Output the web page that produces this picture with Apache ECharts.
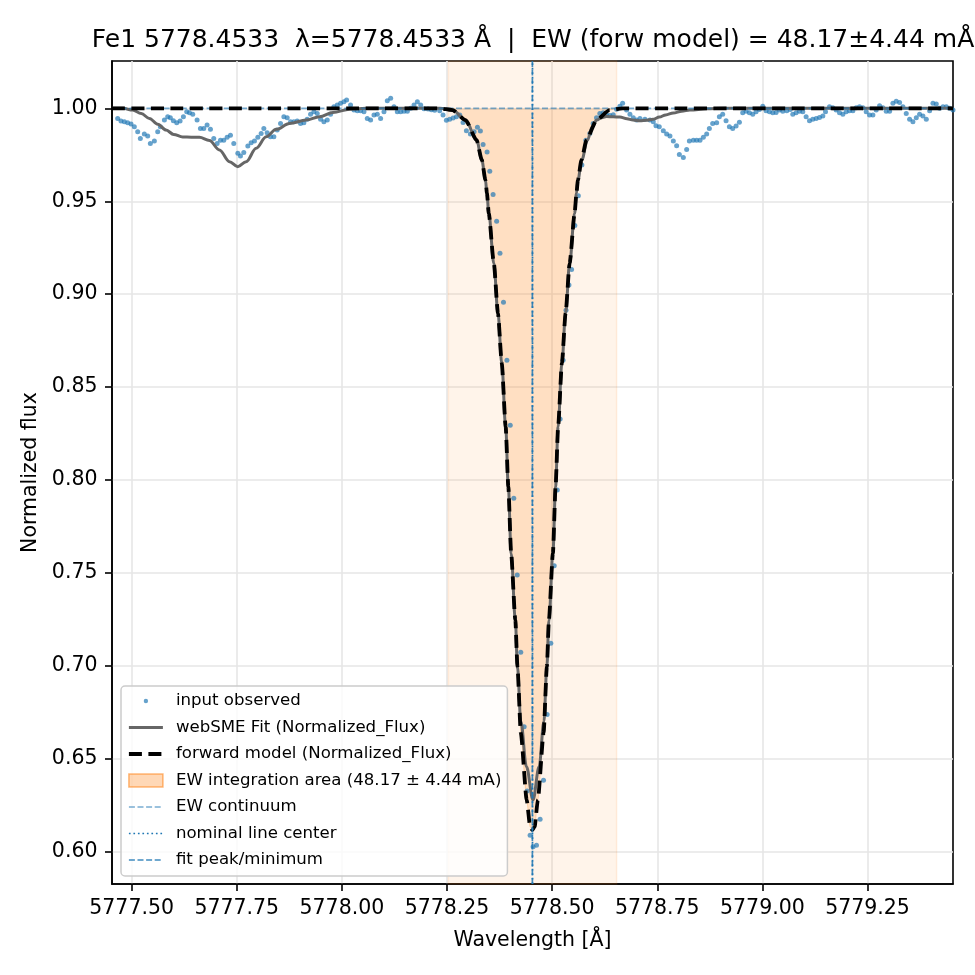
<!DOCTYPE html>
<html>
<head>
<meta charset="utf-8">
<title>Fe1 5778.4533</title>
<script src="https://cdn.jsdelivr.net/npm/echarts@6/dist/echarts.min.js"></script>
<style>
  html, body { margin: 0; padding: 0; background: #fff; }
  #main { width: 975px; height: 975px; }
</style>
</head>
<body>
<div id="main"></div>
<script>
// observed spectrum
const obsWave = [
  5777.4668, 5777.4747, 5777.4826, 5777.4906, 5777.4985, 5777.5064, 5777.5144, 5777.5207, 5777.5302, 5777.5382,
  5777.5445, 5777.5540, 5777.5620, 5777.5683, 5777.5779, 5777.5858, 5777.5921, 5777.5993, 5777.6072, 5777.6152,
  5777.6231, 5777.6310, 5777.6374, 5777.6453, 5777.6556, 5777.6636, 5777.6715, 5777.6794, 5777.6874, 5777.6953,
  5777.7033, 5777.7112, 5777.7191, 5777.7271, 5777.7350, 5777.7429, 5777.7525, 5777.7588, 5777.7667, 5777.7763,
  5777.7842, 5777.7921, 5777.8001, 5777.8080, 5777.8144, 5777.8223, 5777.8302, 5777.8382, 5777.8461, 5777.8541,
  5777.8620, 5777.8699, 5777.8779, 5777.8858, 5777.8937, 5777.9017, 5777.9096, 5777.9175, 5777.9255, 5777.9334,
  5777.9414, 5777.9493, 5777.9572, 5777.9652, 5777.9731, 5777.9810, 5777.9890, 5777.9969, 5778.0048, 5778.0112,
  5778.0207, 5778.0287, 5778.0366, 5778.0445, 5778.0525, 5778.0604, 5778.0683, 5778.0763, 5778.0842, 5778.0921,
  5778.1001, 5778.1080, 5778.1160, 5778.1239, 5778.1318, 5778.1398, 5778.1477, 5778.1556, 5778.1636, 5778.1715,
  5778.1795, 5778.1874, 5778.1953, 5778.2049, 5778.2128, 5778.2207, 5778.2326, 5778.2406, 5778.2485, 5778.2564,
  5778.2644, 5778.2723, 5778.2803, 5778.2882, 5778.2961, 5778.3056, 5778.3144, 5778.3223, 5778.3294, 5778.3358,
  5778.3453, 5778.3517, 5778.3596, 5778.3680, 5778.3760, 5778.3843, 5778.3925, 5778.4004, 5778.4088, 5778.4170,
  5778.4254, 5778.4335, 5778.4405, 5778.4476, 5778.4547, 5778.4628, 5778.4714, 5778.4795, 5778.4881, 5778.4969,
  5778.5050, 5778.5123, 5778.5190, 5778.5260, 5778.5330, 5778.5400, 5778.5462, 5778.5540, 5778.5623, 5778.5707,
  5778.5802, 5778.5897, 5778.5976, 5778.6055, 5778.6134, 5778.6213, 5778.6295, 5778.6374, 5778.6453, 5778.6532,
  5778.6611, 5778.6676, 5778.6771, 5778.6850, 5778.6929, 5778.7008, 5778.7088, 5778.7207, 5778.7326, 5778.7405,
  5778.7469, 5778.7548, 5778.7644, 5778.7723, 5778.7802, 5778.7882, 5778.7961, 5778.8025, 5778.8120, 5778.8199,
  5778.8263, 5778.8358, 5778.8437, 5778.8517, 5778.8596, 5778.8675, 5778.8739, 5778.8818, 5778.8913, 5778.8977,
  5778.9056, 5778.9136, 5778.9215, 5778.9294, 5778.9374, 5778.9453, 5778.9532, 5778.9612, 5778.9691, 5778.9771,
  5778.9850, 5778.9929, 5779.0009, 5779.0088, 5779.0167, 5779.0247, 5779.0326, 5779.0406, 5779.0485, 5779.0580,
  5779.0660, 5779.0723, 5779.0802, 5779.0882, 5779.0961, 5779.1040, 5779.1120, 5779.1199, 5779.1279, 5779.1358,
  5779.1437, 5779.1501, 5779.1596, 5779.1675, 5779.1755, 5779.1834, 5779.1914, 5779.1993, 5779.2072, 5779.2152,
  5779.2231, 5779.2310, 5779.2390, 5779.2469, 5779.2548, 5779.2628, 5779.2707, 5779.2787, 5779.2866, 5779.2945,
  5779.3025, 5779.3104, 5779.3183, 5779.3263, 5779.3342, 5779.3421, 5779.3501, 5779.3580, 5779.3660, 5779.3739,
  5779.3818, 5779.3898, 5779.3977, 5779.4056, 5779.4136, 5779.4215, 5779.4295, 5779.4374, 5779.4453, 5779.4533
];
const obsFlux = [
  0.9946, 0.9932, 0.9928, 0.9923, 0.9916, 0.9901, 0.9874, 0.9838, 0.9862, 0.9851,
  0.9811, 0.9824, 0.9874, 0.9901, 0.9937, 0.9955, 0.9950, 0.9933, 0.9923, 0.9932,
  0.9955, 0.9982, 0.9977, 0.9968, 0.9937, 0.9892, 0.9892, 0.9910, 0.9887, 0.9838,
  0.9811, 0.9829, 0.9829, 0.9844, 0.9856, 0.9811, 0.9758, 0.9743, 0.9763, 0.9797,
  0.9815, 0.9824, 0.9844, 0.9865, 0.9892, 0.9869, 0.9847, 0.9847, 0.9883, 0.9919,
  0.9955, 0.9950, 0.9928, 0.9928, 0.9932, 0.9919, 0.9923, 0.9941, 0.9968, 0.9982,
  0.9973, 0.9941, 0.9928, 0.9937, 0.9968, 1.0009, 1.0018, 1.0027, 1.0036, 1.0045,
  1.0018, 0.9991, 0.9987, 0.9987, 0.9982, 0.9946, 0.9937, 0.9964, 0.9969, 0.9946,
  0.9982, 1.0041, 1.0054, 1.0009, 0.9982, 0.9982, 0.9985, 0.9985, 1.0000, 1.0018,
  1.0036, 1.0018, 0.9998, 0.9996, 0.9993, 0.9990, 0.9987, 0.9964, 0.9936, 0.9941,
  0.9948, 0.9955, 0.9965, 0.9924, 0.9880, 0.9862, 0.9874, 0.9898, 0.9878, 0.9806,
  0.9765, 0.9661, 0.9537, 0.9392, 0.9220, 0.8956, 0.8644, 0.8294, 0.7901, 0.7488,
  0.7072, 0.6672, 0.6326, 0.6087, 0.6026, 0.6034, 0.6173, 0.6383, 0.6738, 0.7121,
  0.7538, 0.7946, 0.8328, 0.8644, 0.8914, 0.9049, 0.9133, 0.9370, 0.9530, 0.9695,
  0.9829, 0.9865, 0.9919, 0.9950, 0.9973, 0.9976, 0.9964, 0.9962, 0.9966, 0.9995,
  1.0012, 1.0027, 0.9991, 0.9969, 0.9950, 0.9937, 0.9946, 0.9941, 0.9937, 0.9928,
  0.9907, 0.9901, 0.9880, 0.9862, 0.9851, 0.9824, 0.9799, 0.9752, 0.9736, 0.9779,
  0.9824, 0.9829, 0.9829, 0.9829, 0.9844, 0.9862, 0.9892, 0.9919, 0.9923, 0.9955,
  0.9969, 0.9933, 0.9901, 0.9892, 0.9905, 0.9925, 0.9977, 0.9985, 0.9977, 0.9968,
  0.9982, 0.9994, 1.0012, 0.9987, 0.9982, 0.9977, 0.9978, 0.9991, 0.9985, 0.9987,
  0.9994, 0.9968, 0.9977, 0.9985, 0.9982, 0.9955, 0.9933, 0.9942, 0.9946, 0.9951,
  0.9959, 0.9982, 1.0009, 1.0003, 0.9991, 0.9977, 0.9968, 0.9982, 0.9987, 0.9987,
  1.0003, 1.0009, 1.0003, 0.9982, 0.9964, 0.9964, 0.9991, 1.0014, 1.0003, 0.9985,
  0.9985, 1.0027, 1.0039, 1.0032, 1.0009, 0.9973, 0.9942, 0.9928, 0.9950, 0.9969,
  0.9959, 0.9942, 0.9987, 1.0027, 1.0023, 1.0000, 1.0009, 1.0009, 1.0000, 0.9991
];

// webSME fit (grey)
const fitWave = [
  5777.4533, 5777.4800, 5777.5023, 5777.5230, 5777.5421, 5777.5620, 5777.5819, 5777.6000, 5777.6214, 5777.6420,
  5777.6612, 5777.6850, 5777.7088, 5777.7326, 5777.7524, 5777.7724, 5777.7962, 5777.8200, 5777.8438, 5777.8755,
  5777.9152, 5777.9469, 5777.9786, 5778.0183, 5778.0581, 5778.2330, 5778.2630, 5778.2940, 5778.3205, 5778.3328,
  5778.3414, 5778.3450, 5778.3493, 5778.3614, 5778.3712, 5778.3802, 5778.3895, 5778.3958, 5778.4025, 5778.4125,
  5778.4175, 5778.4255, 5778.4390, 5778.4545, 5778.4690, 5778.4805, 5778.4875, 5778.4923, 5778.5018, 5778.5082,
  5778.5142, 5778.5232, 5778.5320, 5778.5416, 5778.5535, 5778.5578, 5778.5613, 5778.5705, 5778.5840, 5778.5950,
  5778.6060, 5778.6176, 5778.6295, 5778.6450, 5778.6612, 5778.6780, 5778.6921, 5778.7088, 5778.7250, 5778.7397,
  5778.7550, 5778.7700, 5778.7881, 5778.8080, 5778.8278, 5778.8676, 5778.9100, 5779.4533
];
const fitFlux = [
  1.0000, 1.0000, 0.9991, 0.9972, 0.9946, 0.9915, 0.9883, 0.9860, 0.9846, 0.9845,
  0.9844, 0.9827, 0.9776, 0.9713, 0.9686, 0.9713, 0.9785, 0.9847, 0.9887, 0.9919,
  0.9937, 0.9955, 0.9978, 0.9995, 1.0000, 1.0000, 0.9991, 0.9937, 0.9829, 0.9722,
  0.9614, 0.9543, 0.9435, 0.9166, 0.8897, 0.8628, 0.8286, 0.7963, 0.7605, 0.7245,
  0.6995, 0.6700, 0.6456, 0.6278, 0.6456, 0.6700, 0.6995, 0.7245, 0.7605, 0.7963,
  0.8286, 0.8628, 0.8897, 0.9166, 0.9435, 0.9543, 0.9614, 0.9722, 0.9829, 0.9900,
  0.9937, 0.9950, 0.9956, 0.9955, 0.9953, 0.9944, 0.9937, 0.9933, 0.9936, 0.9941,
  0.9953, 0.9965, 0.9975, 0.9985, 0.9991, 0.9998, 1.0000, 1.0000
];

// forward model (black dashed)
const modelWave = [
  5777.4533, 5778.2330, 5778.2630, 5778.2940, 5778.3205, 5778.3328, 5778.3414, 5778.3450, 5778.3493, 5778.3614,
  5778.3712, 5778.3802, 5778.3895, 5778.3958, 5778.4025, 5778.4125, 5778.4175, 5778.4255, 5778.4395, 5778.4477,
  5778.4530, 5778.4583, 5778.4661, 5778.4797, 5778.4875, 5778.4923, 5778.5018, 5778.5082, 5778.5142, 5778.5232,
  5778.5320, 5778.5416, 5778.5535, 5778.5578, 5778.5613, 5778.5697, 5778.5816, 5778.6054, 5778.6363, 5778.6673,
  5779.4533
];
const modelFlux = [
  1.0000, 1.0000, 0.9991, 0.9937, 0.9829, 0.9722, 0.9614, 0.9543, 0.9435, 0.9166,
  0.8897, 0.8628, 0.8286, 0.7963, 0.7605, 0.7245, 0.6995, 0.6638, 0.6278, 0.6133,
  0.6116, 0.6133, 0.6278, 0.6638, 0.6995, 0.7245, 0.7605, 0.7963, 0.8286, 0.8628,
  0.8897, 0.9166, 0.9435, 0.9543, 0.9614, 0.9722, 0.9829, 0.9937, 0.9991, 1.0000,
  1.0000
];

const lineCenter = 5778.4533;   // nominal
const fitMinimum = 5778.4530;   // fit peak/minimum
const ewLo = 5778.2533;
const ewHi = 5778.6533;
const continuum = 1.0;
const xRange = [5777.4533, 5779.4533];
const yRange = [0.5825, 1.0255];
const xTicks = [5777.50, 5777.75, 5778.00, 5778.25, 5778.50, 5778.75, 5779.00, 5779.25];
const yTicks = [0.60, 0.65, 0.70, 0.75, 0.80, 0.85, 0.90, 0.95, 1.00];

const titleText = 'Fe1 5778.4533  λ=5778.4533 Å  |  EW (forw model) = 48.17±4.44 mÅ';
const areaName = 'EW integration area (48.17 ± 4.44 mA)';

const font = 'DejaVu Sans';
const blue = '#1f77b4';
const dotColor = 'rgba(31,119,180,0.85)';

const zip = (xs, ys) => xs.map((x, i) => [x, ys[i]]);

// fill between continuum and the forward model inside the EW window
const areaData = [[ewLo, continuum]]
  .concat(zip(modelWave, modelFlux).filter(p => p[0] > ewLo && p[0] < ewHi))
  .concat([[ewHi, continuum]]);

// small dot centred in the legend handle box
const dotIcon = 'path://M0,0L0.01,0M34,13L34.01,13M19.2,6.5A2.2,2.2,0,1,1,14.8,6.5A2.2,2.2,0,1,1,19.2,6.5Z';
// line handles: hide the symbol echarts puts in the middle
const noMark = { opacity: 0, color: 'rgba(0,0,0,0)', borderWidth: 0 };

const chart = echarts.init(document.getElementById('main'));
chart.setOption({
  animation: false,
  title: {
    text: titleText,
    left: 528,
    top: 23,
    textAlign: 'center',
    textStyle: { fontFamily: font, fontSize: 25, fontWeight: 'normal', color: '#000' }
  },
  grid: {
    left: 112, right: 22, top: 61, bottom: 91,
    show: true, borderColor: '#000', borderWidth: 1.6, backgroundColor: 'transparent'
  },
  xAxis: {
    type: 'value',
    min: xRange[0],
    max: xRange[1],
    name: 'Wavelength [Å]',
    nameLocation: 'middle',
    nameGap: 46,
    nameTextStyle: { fontFamily: font, fontSize: 20.5, color: '#000' },
    axisLine: { show: true, onZero: false, lineStyle: { color: '#000', width: 1.6 } },
    axisTick: { show: true, length: 7, customValues: xTicks, lineStyle: { color: '#000', width: 1.6 } },
    axisLabel: {
      customValues: xTicks,
      formatter: v => v.toFixed(2),
      fontFamily: font, fontSize: 20.5, color: '#000', margin: 14
    },
    splitLine: { show: true, lineStyle: { color: '#e6e6e6', width: 1.6 } }
  },
  yAxis: {
    type: 'value',
    min: yRange[0],
    max: yRange[1],
    name: 'Normalized flux',
    nameLocation: 'middle',
    nameGap: 69,
    nameTextStyle: { fontFamily: font, fontSize: 20.5, color: '#000' },
    axisLine: { show: true, onZero: false, lineStyle: { color: '#000', width: 1.6 } },
    axisTick: { show: true, length: 7, customValues: yTicks, lineStyle: { color: '#000', width: 1.6 } },
    axisLabel: {
      customValues: yTicks,
      formatter: v => v.toFixed(2),
      fontFamily: font, fontSize: 20.5, color: '#000', margin: 14.5
    },
    splitLine: { show: true, lineStyle: { color: '#e6e6e6', width: 1.6 } }
  },
  legend: {
    orient: 'vertical',
    left: 121,
    top: 686,
    padding: [6, 6, 7, 6],
    itemWidth: 34,
    itemHeight: 13,
    itemGap: 8.5,
    selectedMode: false,
    backgroundColor: 'rgba(255,255,255,0.8)',
    borderColor: '#cccccc',
    borderWidth: 1.5,
    borderRadius: 4,
    textStyle: { fontFamily: font, fontSize: 16.6, color: '#000', lineHeight: 18, padding: [0, 0, 0, 8] },
    data: [
      { name: 'input observed', icon: dotIcon, itemStyle: { color: dotColor } },
      { name: 'webSME Fit (Normalized_Flux)', itemStyle: noMark, lineStyle: { color: '#666666', width: 3, type: 'solid' } },
      { name: 'forward model (Normalized_Flux)', itemStyle: noMark, lineStyle: { color: '#000', width: 3.8, type: [13, 6.5] } },
      { name: areaName, icon: 'rect', itemStyle: { color: 'rgba(255,127,14,0.3)', borderColor: 'rgba(255,127,14,0.55)', borderWidth: 1.5 } },
      { name: 'EW continuum', itemStyle: noMark, lineStyle: { color: 'rgba(31,119,180,0.6)', width: 1.7, type: [6, 2.6] } },
      { name: 'nominal line center', itemStyle: noMark, lineStyle: { color: blue, width: 1.7, type: [1.7, 2.8] } },
      { name: 'fit peak/minimum', itemStyle: noMark, lineStyle: { color: 'rgba(31,119,180,0.85)', width: 1.7, type: [6, 2.6] } }
    ]
  },
  series: [
    {
      name: 'input observed',
      type: 'scatter',
      data: zip(obsWave, obsFlux),
      symbolSize: 5,
      itemStyle: { color: dotColor },
      z: 3
    },
    {
      name: 'webSME Fit (Normalized_Flux)',
      type: 'line',
      data: zip(fitWave, fitFlux),
      symbol: 'none',
      smooth: 0.35,
      smoothMonotone: 'x',
      lineStyle: { color: '#666666', width: 3 },
      z: 4
    },
    {
      name: areaName,
      type: 'line',
      data: areaData,
      symbol: 'none',
      smooth: 0.2,
      smoothMonotone: 'x',
      lineStyle: { color: 'rgba(255,127,14,0.25)', width: 1 },
      areaStyle: { color: 'rgba(255,127,14,0.25)', origin: continuum },
      z: 2
    },
    {
      name: 'EW continuum',
      type: 'line',
      data: [[xRange[0], continuum], [xRange[1], continuum]],
      symbol: 'none',
      lineStyle: { color: 'rgba(31,119,180,0.6)', width: 1.7, type: [6, 2.6] },
      z: 4,
      // the pale EW window
      markArea: {
        silent: true,
        itemStyle: { color: 'rgba(255,127,14,0.085)', borderColor: 'rgba(255,127,14,0.12)', borderWidth: 1.5 },
        data: [[{ xAxis: ewLo }, { xAxis: ewHi }]]
      }
    },
    {
      name: 'forward model (Normalized_Flux)',
      type: 'line',
      data: zip(modelWave, modelFlux),
      symbol: 'none',
      smooth: 0.2,
      smoothMonotone: 'x',
      lineStyle: { color: '#000', width: 3.8, type: [13, 6.5] },
      z: 5
    },
    {
      name: 'nominal line center',
      type: 'line',
      data: [[lineCenter, yRange[0]], [lineCenter, yRange[1]]],
      symbol: 'none',
      lineStyle: { color: blue, width: 1.7, type: [1.7, 2.8] },
      z: 6
    },
    {
      name: 'fit peak/minimum',
      type: 'line',
      data: [[fitMinimum, yRange[0]], [fitMinimum, yRange[1]]],
      symbol: 'none',
      lineStyle: { color: 'rgba(31,119,180,0.85)', width: 1.7, type: [6, 2.6] },
      z: 6
    }
  ]
});
</script>
</body>
</html>
